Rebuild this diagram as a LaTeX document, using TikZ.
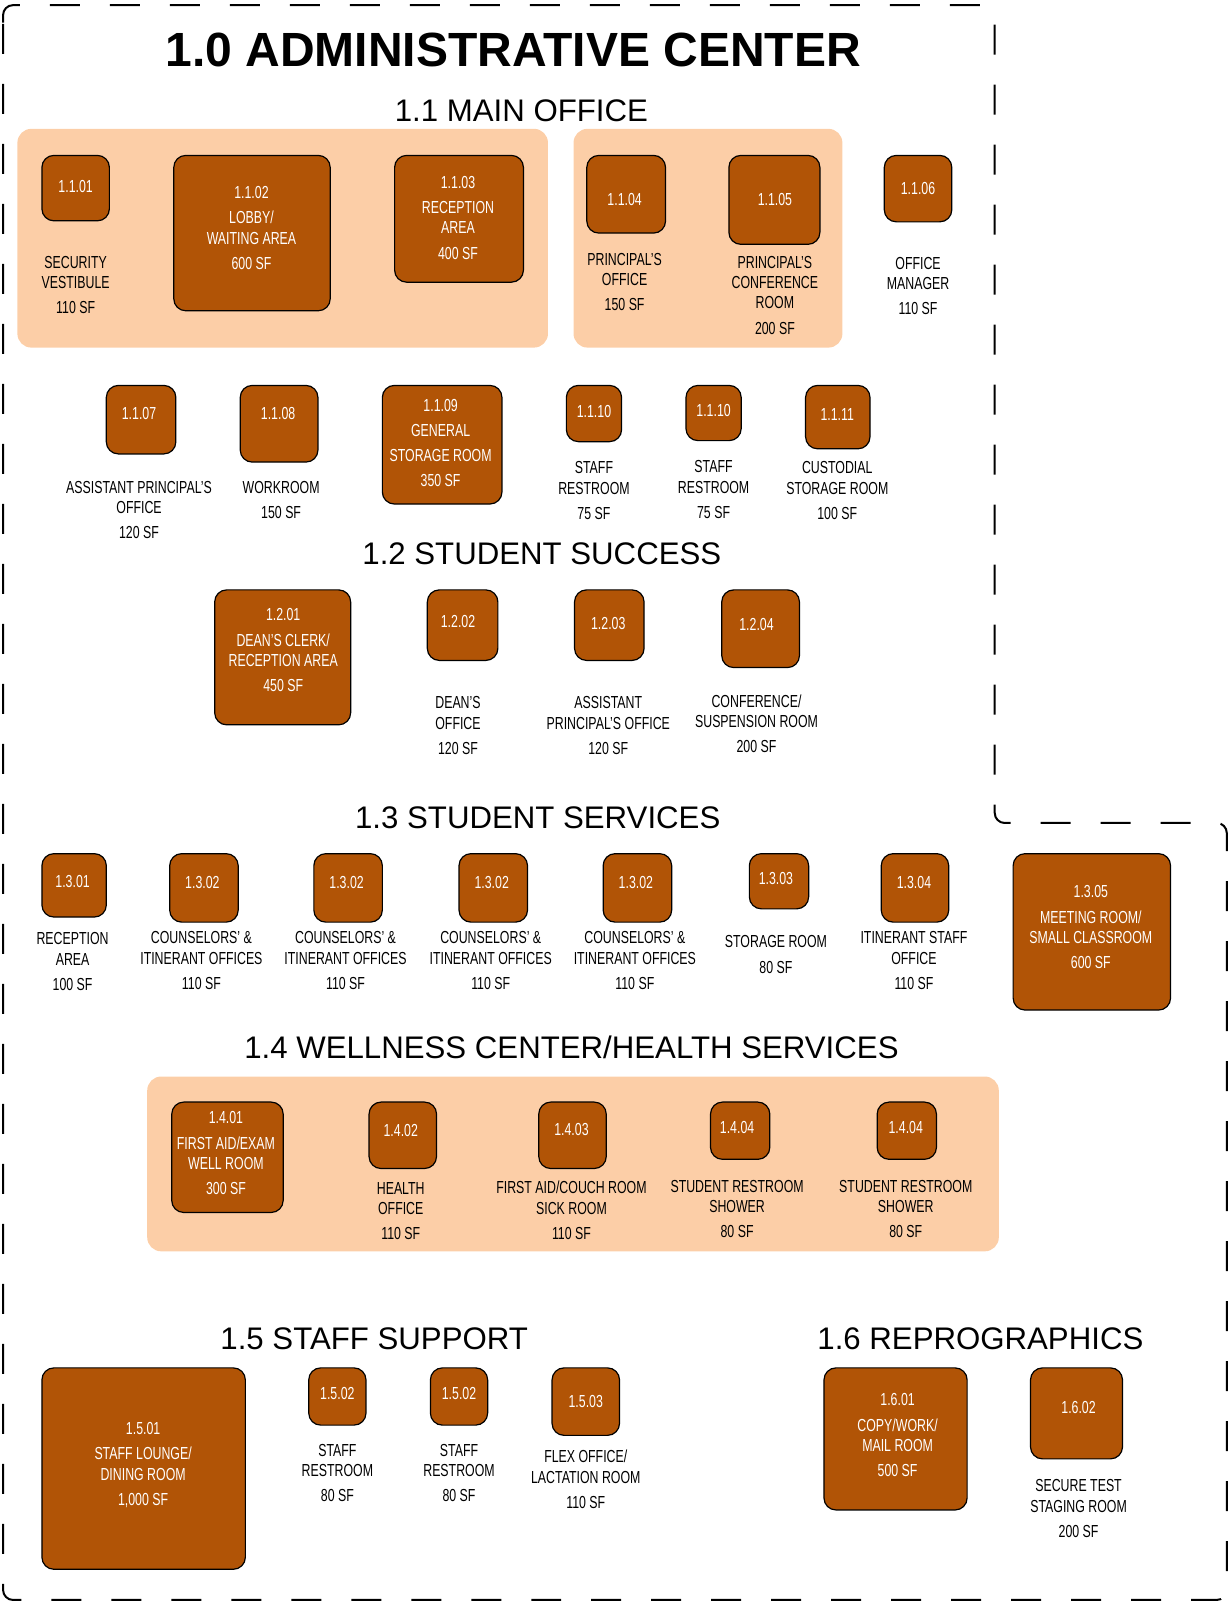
\documentclass[tikz,border=0pt]{standalone}
\usepackage{fontspec}
\setmainfont{Liberation Sans}
\newfontfamily\condfont[FakeStretch=0.71]{Liberation Sans}
\usetikzlibrary{fit}
\definecolor{rust}{RGB}{177,84,6}
\definecolor{peach}{RGB}{252,206,167}
\newcommand{\roomfont}{\condfont\fontsize{8.7pt}{10.2pt}\selectfont}
\tikzstyle{zone} = [rectangle, rounded corners=7pt, fill=peach, draw=none, inner sep=0pt]
\tikzstyle{room} = [rectangle, rounded corners=6pt, draw=black, line width=0.6pt, fill=rust, inner sep=0pt]
\tikzstyle{intext} = [anchor=north, align=center, inner sep=0pt, text=white, font=\roomfont]
\tikzstyle{outtext} = [anchor=north, align=center, inner sep=0pt, text=black, font=\roomfont]
\tikzstyle{heading} = [anchor=base, inner sep=0pt, font=\fontsize{15.6pt}{18pt}\selectfont]
\tikzstyle{title} = [anchor=base, inner sep=0pt, font=\bfseries\fontsize{24pt}{28pt}\selectfont]
\tikzstyle{boundary} = [line width=1pt, dash pattern=on 15pt off 15pt, rounded corners=5pt]

\begin{document}
\begin{tikzpicture}[x=0.5112pt, y=-0.5112pt]
	\useasboundingbox (0,0) rectangle (1205,1568);
	% outline of the center
	\draw [boundary] (3,32) -- (3,5) -- (973,5) -- (973,805) -- (1200,805) -- (1200,1565) -- (3,1565) -- cycle;
	\node (title) [title] at (502,65) {1.0 ADMINISTRATIVE CENTER};

	% 1.1 main office
	\node (h11) [heading] at (510,119) {1.1 MAIN OFFICE};
	\node (z11a) [zone, fit={(17,126) (536,340)}] {};
	\node (z11b) [zone, fit={(561,126) (824,340)}] {};
	\node (r1101) [room, fit={(41,152) (107,216)}] {};
	\node (t1101) [intext] at (74,176) {1.1.01};
	\node (l1101) [outtext] at (74,250) {SECURITY\\VESTIBULE\\[2.4pt]110 SF};
	\node (r1102) [room, fit={(170,152) (323,304)}] {};
	\node (t1102) [intext] at (246,182) {1.1.02\\[2.4pt]LOBBY/\\WAITING AREA\\[2.4pt]600 SF};
	\node (r1103) [room, fit={(386,152) (512,276)}] {};
	\node (t1103) [intext] at (448,172) {1.1.03\\[2.4pt]RECEPTION\\AREA\\[2.4pt]400 SF};
	\node (r1104) [room, fit={(574,152) (651,228)}] {};
	\node (t1104) [intext] at (611,189) {1.1.04};
	\node (l1104) [outtext] at (611,247) {PRINCIPAL’S\\OFFICE\\[2.4pt]150 SF};
	\node (r1105) [room, fit={(713,152) (802,239)}] {};
	\node (t1105) [intext] at (758,189) {1.1.05};
	\node (l1105) [outtext] at (758,250) {PRINCIPAL’S\\CONFERENCE\\ROOM\\[2.4pt]200 SF};
	\node (r1106) [room, fit={(865,152) (931,217)}] {};
	\node (t1106) [intext] at (898,178) {1.1.06};
	\node (l1106) [outtext] at (898,251) {OFFICE\\MANAGER\\[2.4pt]110 SF};

	\node (r1107) [room, fit={(104,377) (172,444)}] {};
	\node (t1107) [intext] at (136,398) {1.1.07};
	\node (l1107) [outtext] at (136,470) {ASSISTANT PRINCIPAL’S\\OFFICE\\[2.4pt]120 SF};
	\node (r1108) [room, fit={(235,377) (311,452)}] {};
	\node (t1108) [intext] at (272,398) {1.1.08};
	\node (l1108) [outtext] at (275,470) {WORKROOM\\[2.4pt]150 SF};
	\node (r1109) [room, fit={(374,377) (491,493)}] {};
	\node (t1109) [intext] at (431,390) {1.1.09\\[2.4pt]GENERAL\\[2.4pt]STORAGE ROOM\\[2.4pt]350 SF};
	\node (r1110a) [room, fit={(554,377) (608,432)}] {};
	\node (t1110a) [intext] at (581,396) {1.1.10};
	\node (l1110a) [outtext] at (581,451) {STAFF\\RESTROOM\\[2.4pt]75 SF};
	\node (r1110b) [room, fit={(671,377) (725,431)}] {};
	\node (t1110b) [intext] at (698,395) {1.1.10};
	\node (l1110b) [outtext] at (698,450) {STAFF\\RESTROOM\\[2.4pt]75 SF};
	\node (r1111) [room, fit={(788,377) (851,439)}] {};
	\node (t1111) [intext] at (819,399) {1.1.11};
	\node (l1111) [outtext] at (819,451) {CUSTODIAL\\STORAGE ROOM\\[2.4pt]100 SF};

	% 1.2 student success
	\node (h12) [heading] at (530,552) {1.2 STUDENT SUCCESS};
	\node (r1201) [room, fit={(210,577) (343,709)}] {};
	\node (t1201) [intext] at (277,595) {1.2.01\\[2.4pt]DEAN’S CLERK/\\RECEPTION AREA\\[2.4pt]450 SF};
	\node (r1202) [room, fit={(418,577) (487,646)}] {};
	\node (t1202) [intext] at (448,602) {1.2.02};
	\node (l1202) [outtext] at (448,681) {DEAN’S\\OFFICE\\[2.4pt]120 SF};
	\node (r1203) [room, fit={(562,577) (630,646)}] {};
	\node (t1203) [intext] at (595,603) {1.2.03};
	\node (l1203) [outtext] at (595,681) {ASSISTANT\\PRINCIPAL’S OFFICE\\[2.4pt]120 SF};
	\node (r1204) [room, fit={(706,577) (782,653)}] {};
	\node (t1204) [intext] at (740,604) {1.2.04};
	\node (l1204) [outtext] at (740,679) {CONFERENCE/\\SUSPENSION ROOM\\[2.4pt]200 SF};

	% 1.3 student services
	\node (h13) [heading] at (526,810) {1.3 STUDENT SERVICES};
	\node (r1301) [room, fit={(41,835) (104,897)}] {};
	\node (t1301) [intext] at (71,856) {1.3.01};
	\node (l1301) [outtext] at (71,912) {RECEPTION\\AREA\\[2.4pt]100 SF};
	\foreach \x/\n in {166/a, 307/b, 449/c, 590/d} {
		\node (r1302\n) [room, fit={(\x,835) (\x+67,902)}] {};
		\node (t1302\n) [intext] at (\x+32,857) {1.3.02};
		\node (l1302\n) [outtext] at (\x+31,911) {COUNSELORS’ \&\\ITINERANT OFFICES\\[2.4pt]110 SF};
	}
	\node (r1303) [room, fit={(733,835) (791,889)}] {};
	\node (t1303) [intext] at (759,853) {1.3.03};
	\node (l1303) [outtext] at (759,915) {STORAGE ROOM\\[2.4pt]80 SF};
	\node (r1304) [room, fit={(862,835) (928,902)}] {};
	\node (t1304) [intext] at (894,857) {1.3.04};
	\node (l1304) [outtext] at (894,911) {ITINERANT STAFF\\OFFICE\\[2.4pt]110 SF};
	\node (r1305) [room, fit={(991,835) (1145,988)}] {};
	\node (t1305) [intext] at (1067,866) {1.3.05\\[2.4pt]MEETING ROOM/\\SMALL CLASSROOM\\[2.4pt]600 SF};

	% 1.4 wellness center
	\node (h14) [heading] at (559,1035) {1.4 WELLNESS CENTER/HEALTH SERVICES};
	\node (z14) [zone, fit={(144,1053) (977,1224)}] {};
	\node (r1401) [room, fit={(168,1078) (277,1186)}] {};
	\node (t1401) [intext] at (221,1087) {1.4.01\\[2.4pt]FIRST AID/EXAM\\WELL ROOM\\[2.4pt]300 SF};
	\node (r1402) [room, fit={(361,1078) (427,1143)}] {};
	\node (t1402) [intext] at (392,1099) {1.4.02};
	\node (l1402) [outtext] at (392,1156) {HEALTH\\OFFICE\\[2.4pt]110 SF};
	\node (r1403) [room, fit={(527,1078) (593,1143)}] {};
	\node (t1403) [intext] at (559,1098) {1.4.03};
	\node (l1403) [outtext] at (559,1155) {FIRST AID/COUCH ROOM\\SICK ROOM\\[2.4pt]110 SF};
	\node (r1404a) [room, fit={(695,1078) (753,1134)}] {};
	\node (t1404a) [intext] at (721,1096) {1.4.04};
	\node (l1404a) [outtext] at (721,1154) {STUDENT RESTROOM\\SHOWER\\[2.4pt]80 SF};
	\node (r1404b) [room, fit={(858,1078) (916,1134)}] {};
	\node (t1404b) [intext] at (886,1096) {1.4.04};
	\node (l1404b) [outtext] at (886,1154) {STUDENT RESTROOM\\SHOWER\\[2.4pt]80 SF};

	% 1.5 staff support
	\node (h15) [heading] at (366,1320) {1.5 STAFF SUPPORT};
	\node (r1501) [room, fit={(41,1338) (240,1535)}] {};
	\node (t1501) [intext] at (140,1391) {1.5.01\\[2.4pt]STAFF LOUNGE/\\DINING ROOM\\[2.4pt]1,000 SF};
	\node (r1502a) [room, fit={(302,1338) (358,1394)}] {};
	\node (t1502a) [intext] at (330,1357) {1.5.02};
	\node (l1502a) [outtext] at (330,1412) {STAFF\\RESTROOM\\[2.4pt]80 SF};
	\node (r1502b) [room, fit={(421,1338) (477,1394)}] {};
	\node (t1502b) [intext] at (449,1357) {1.5.02};
	\node (l1502b) [outtext] at (449,1412) {STAFF\\RESTROOM\\[2.4pt]80 SF};
	\node (r1503) [room, fit={(540,1338) (606,1404)}] {};
	\node (t1503) [intext] at (573,1364) {1.5.03};
	\node (l1503) [outtext] at (573,1418) {FLEX OFFICE/\\LACTATION ROOM\\[2.4pt]110 SF};

	% 1.6 reprographics
	\node (h16) [heading] at (959,1320) {1.6 REPROGRAPHICS};
	\node (r1601) [room, fit={(806,1338) (946,1477)}] {};
	\node (t1601) [intext] at (878,1363) {1.6.01\\[2.4pt]COPY/WORK/\\MAIL ROOM\\[2.4pt]500 SF};
	\node (r1602) [room, fit={(1008,1338) (1098,1427)}] {};
	\node (t1602) [intext] at (1055,1370) {1.6.02};
	\node (l1602) [outtext] at (1055,1447) {SECURE TEST\\STAGING ROOM\\[2.4pt]200 SF};
\end{tikzpicture}
\end{document}
